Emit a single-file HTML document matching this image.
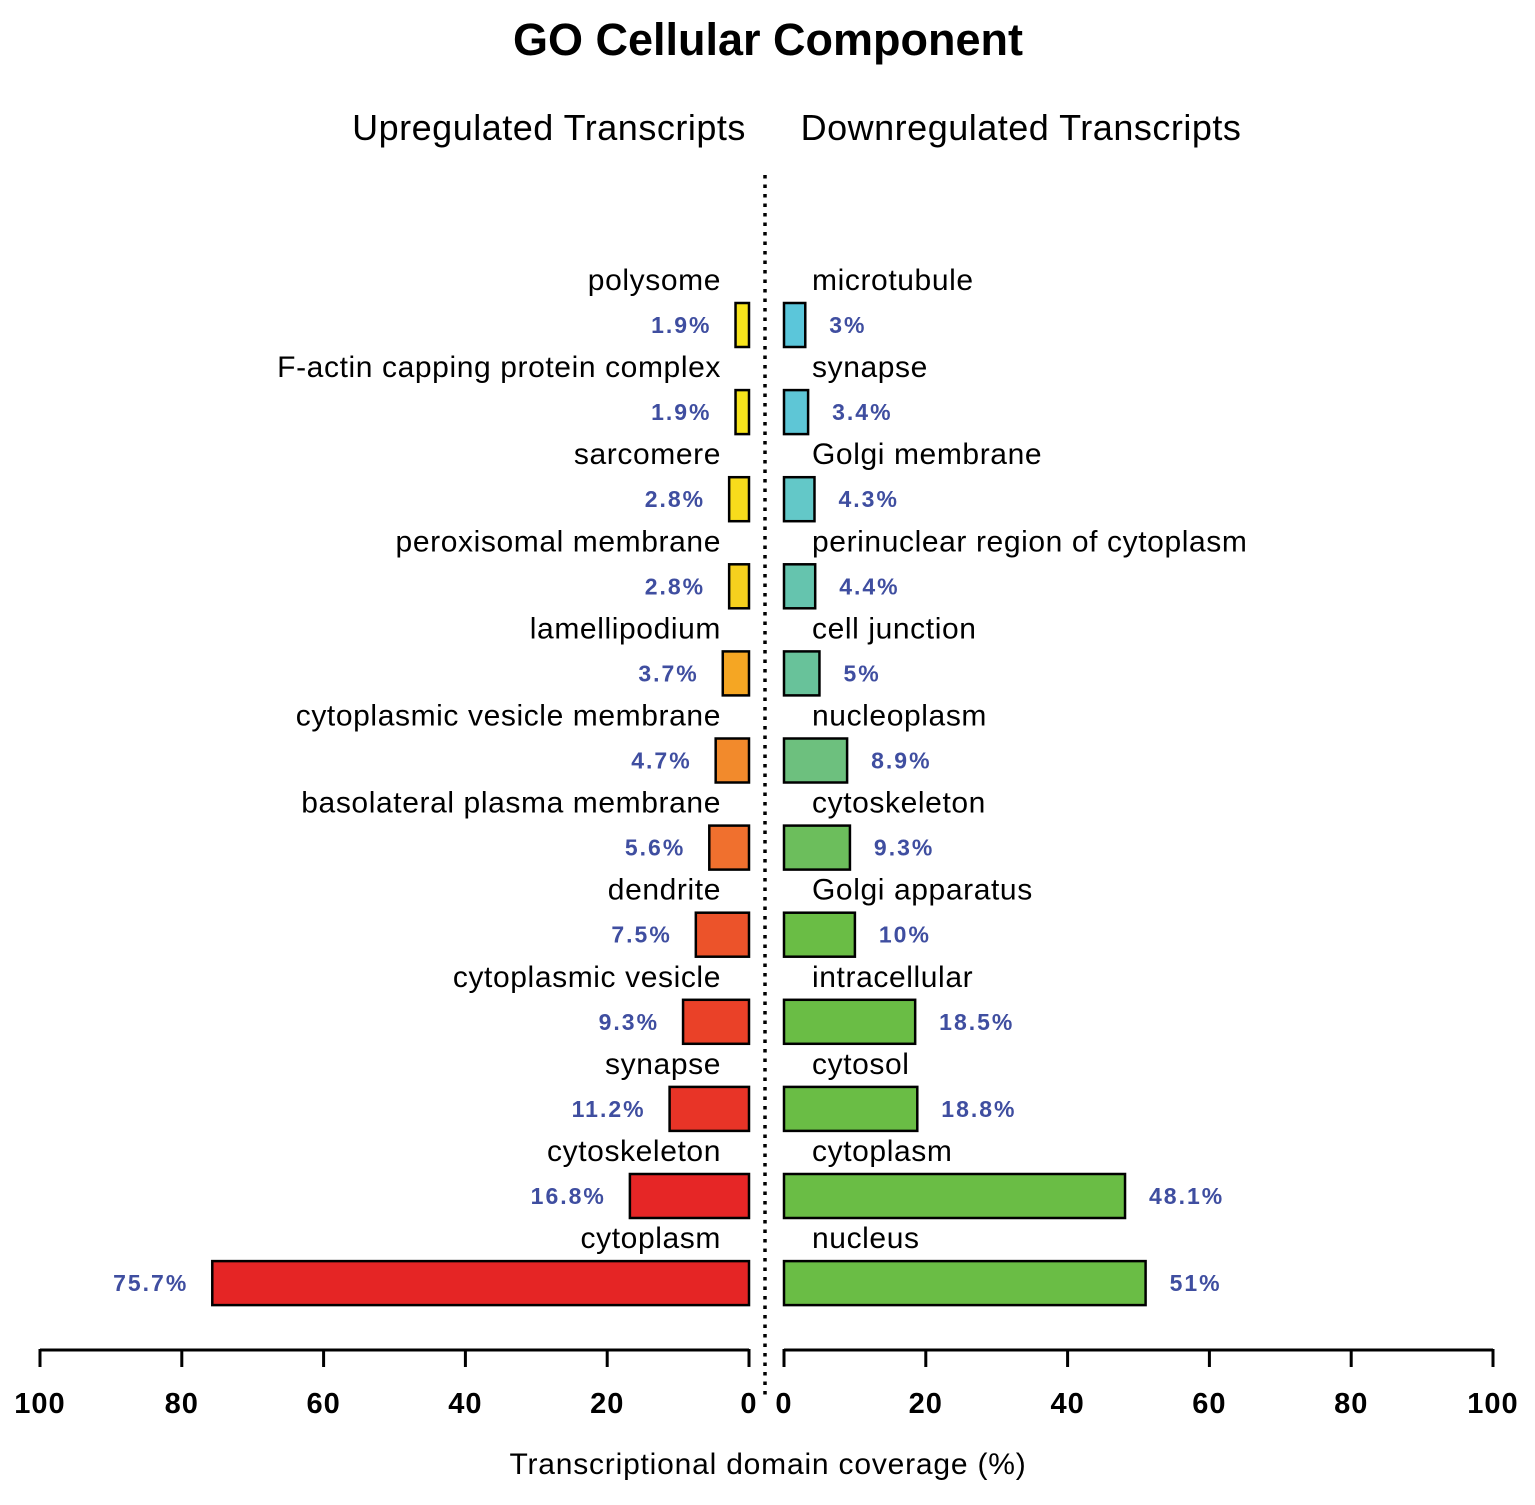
<!DOCTYPE html>
<html><head><meta charset="utf-8"><style>
body{margin:0;background:#fff;}
svg{display:block;font-family:"Liberation Sans",sans-serif;}
</style></head><body>
<svg id="chart" width="1535" height="1505" viewBox="0 0 1535 1505">
<text x="768" y="55" text-anchor="middle" font-size="45" font-weight="bold">GO Cellular Component</text>
<text x="549" y="140" text-anchor="middle" font-size="36" letter-spacing="0.5">Upregulated Transcripts</text>
<text x="1021" y="140" text-anchor="middle" font-size="36" letter-spacing="0.5">Downregulated Transcripts</text>
<line x1="765" y1="175" x2="765" y2="1395" stroke="#000" stroke-width="3.5" stroke-dasharray="3.5,6"/>
<g id="bars"></g>
<g id="axes"></g>
<text x="768" y="1474" text-anchor="middle" font-size="30" letter-spacing="0.8">Transcriptional domain coverage (%)</text>
</svg>
<script>
const upCategories = ["polysome","F-actin capping protein complex","sarcomere","peroxisomal membrane","lamellipodium","cytoplasmic vesicle membrane","basolateral plasma membrane","dendrite","cytoplasmic vesicle","synapse","cytoskeleton","cytoplasm"];
const upValues = [1.9,1.9,2.8,2.8,3.7,4.7,5.6,7.5,9.3,11.2,16.8,75.7];
const upColors = ["#f7e41c","#f7e41c","#f7dc1c","#f5d01e","#f5a623","#f28a2c","#f0702e","#ec532a","#ea4128","#e83427","#e62626","#e52525"];
const downCategories = ["microtubule","synapse","Golgi membrane","perinuclear region of cytoplasm","cell junction","nucleoplasm","cytoskeleton","Golgi apparatus","intracellular","cytosol","cytoplasm","nucleus"];
const downValues = [3,3.4,4.3,4.4,5,8.9,9.3,10,18.5,18.8,48.1,51];
const downColors = ["#5bc6da","#5ec6d6","#63c8c8","#65c4ae","#68c29a","#6dc07e","#6cbe5c","#6abd45","#6abd45","#6abd45","#6abd45","#6abd45"];
const ticks = [0,20,40,60,80,100];

const NS="http://www.w3.org/2000/svg";
const scale = 7.09;
const xLeft = v => 749 - v*scale;
const xRight = v => 784 + v*scale;
const rowY = i => 325 + i*87.1;
const bars=document.getElementById('bars'), axes=document.getElementById('axes');
function mk(tag, attrs, parent, txt){const e=document.createElementNS(NS,tag);for(const k in attrs)e.setAttribute(k,attrs[k]);if(txt!==undefined)e.textContent=txt;parent.appendChild(e);return e;}

upCategories.forEach((c,i)=>{
  const y=rowY(i), v=upValues[i];
  let r=mk('rect',{x:xLeft(v),y:y-22,width:v*scale,height:44,fill:upColors[i],stroke:"#000","stroke-width":2.5},bars);
  
  
  let t=mk('text',{x:721,y:y-35,"text-anchor":"end","font-size":30,"letter-spacing":0.6},bars,c);
  
  
  let l=mk('text',{x:xLeft(v)-24,y:y+8,"text-anchor":"end","font-size":23,"font-weight":"bold",fill:"#3f4ea0","letter-spacing":2},bars,v+"%");
  
  
});
downCategories.forEach((c,i)=>{
  const y=rowY(i), v=downValues[i];
  let r=mk('rect',{x:784,y:y-22,width:v*scale,height:44,fill:downColors[i],stroke:"#000","stroke-width":2.5},bars);
  
  
  let t=mk('text',{x:812,y:y-35,"font-size":30,"letter-spacing":0.6},bars,c);
  
  
  let l=mk('text',{x:xRight(v)+24,y:y+8,"font-size":23,"font-weight":"bold",fill:"#3f4ea0","letter-spacing":2},bars,v+"%");
  
  
});
let la=mk('path',{d:`M${xLeft(100)} 1350 H${xLeft(0)}`,stroke:"#000","stroke-width":3,fill:"none"},axes);


let ra=mk('path',{d:`M${xRight(0)} 1350 H${xRight(100)}`,stroke:"#000","stroke-width":3,fill:"none"},axes);


ticks.forEach(t=>{
  [[xLeft(t),'left'],[xRight(t),'right']].forEach(([x,s])=>{
    let tk=mk('line',{x1:x,y1:1349,x2:x,y2:1367,stroke:"#000","stroke-width":3},axes);
    
    
    let lb=mk('text',{x:x,y:1413,"text-anchor":"middle","font-size":29,"font-weight":"bold","letter-spacing":1},axes,t);
    
    
  });
});
</script>
</body></html>
